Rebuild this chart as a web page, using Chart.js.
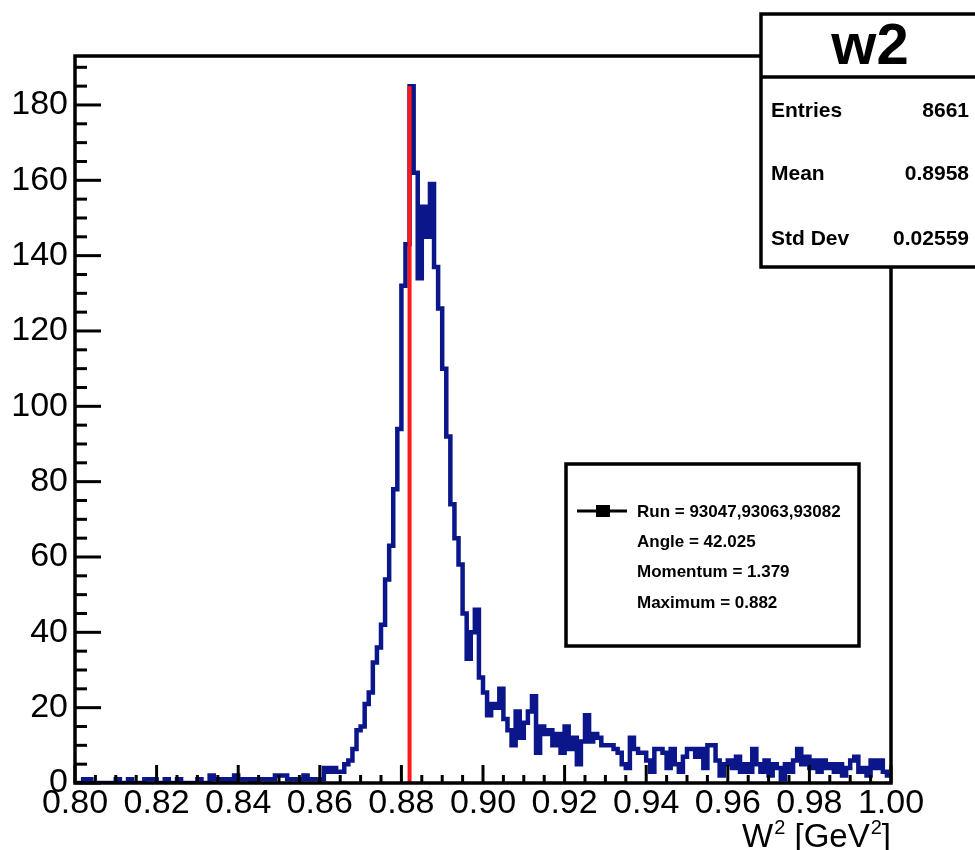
<!DOCTYPE html>
<html><head><meta charset="utf-8">
<script src="https://cdn.jsdelivr.net/npm/chart.js@4.4.0/dist/chart.umd.min.js"></script>
<style>html,body{margin:0;padding:0;background:#fff;} #wrap{width:975px;height:850px;position:relative;}</style>
</head><body><div id="wrap"><canvas id="c" width="975" height="850"></canvas></div>
<script>
// ---- data ----
const xMin = 0.80, xMax = 1.00, binWidth = 0.001;
const counts = [
  0,0,1,1,0,0,0,0,0,0,
  1,0,0,1,0,0,0,1,1,1,
  0,0,1,0,0,1,0,0,0,0,
  1,0,0,2,1,1,0,1,0,2,
  1,1,1,0,1,1,1,1,1,2,
  2,2,1,1,1,1,2,1,1,1,
  1,4,3,4,3,3,5,6,9,14,
  15,21,24,32,36,42,54,63,78,94,
  132,143,185,162,134,153,145,159,137,126,
  110,92,74,65,58,45,33,40,46,28,
  24,18,21,20,25,17,14,10,19,12,
  16,19,23,8,15,13,14,10,13,8,
  15,9,12,5,11,18,11,13,12,10,
  10,10,9,8,5,4,12,9,8,8,
  6,3,9,9,8,4,9,5,3,7,
  9,9,7,9,4,10,10,6,2,5,
  6,4,7,3,5,3,9,5,3,6,
  2,5,4,1,5,3,6,9,5,7,
  4,6,3,6,4,5,3,5,2,4,
  6,7,3,4,2,6,4,6,3,2
];
const xTickValues = [0.80,0.82,0.84,0.86,0.88,0.90,0.92,0.94,0.96,0.98,1.00];
const yTickValues = [0,20,40,60,80,100,120,140,160,180];
const yMax = 193;
const xMinorStep = 0.005, yMinorStep = 5;
const peakMarkerX = 0.882;
const xTitleParts = [['W',false],['2',true],[' [GeV',false],['2',true],[']',false]];
const statsTitle = 'w2';
const statsLabels = ['Entries','Mean','Std Dev'];
const statsValues = ['8661','0.8958','0.02559'];
const legendLines = ['Run = 93047,93063,93082','Angle = 42.025','Momentum = 1.379','Maximum = 0.882'];

// ---- build ----
const histPoints = counts.map((c,i)=>({x: xMin + i*binWidth, y: c}));
histPoints.push({x: xMax, y: counts[counts.length-1]});
const peakVal = Math.max(...counts);
const markerPoints = [{x: peakMarkerX, y: 0},{x: peakMarkerX, y: peakVal}];

const FONT = '"Liberation Sans", Arial, Helvetica, sans-serif';

const framePlugin = {
  id: 'frame',
  afterDatasetsDraw(chart){
    const {ctx, chartArea:a, scales:{x,y}} = chart;
    ctx.save();
    ctx.strokeStyle = '#000';
    ctx.lineCap = 'butt';
    ctx.lineWidth = 3;
    const nY = Math.round(yMax / yMinorStep);
    for (let k=0;k<=nY;k++){
      const v = k*yMinorStep;
      if (v > yMax) break;
      const py = y.getPixelForValue(v);
      const len = (v % 20 === 0) ? 26 : 12;
      ctx.beginPath(); ctx.moveTo(a.left, py); ctx.lineTo(a.left+len, py); ctx.stroke();
    }
    const nX = Math.round((xMax-xMin)/xMinorStep);
    for (let k=0;k<=nX;k++){
      const v = xMin + k*xMinorStep;
      const px = x.getPixelForValue(v);
      const len = (k % 4 === 0) ? 18 : 8;
      ctx.beginPath(); ctx.moveTo(px, a.bottom); ctx.lineTo(px, a.bottom-len); ctx.stroke();
    }
    ctx.lineWidth = 3.5;
    ctx.strokeRect(a.left, a.top, a.right-a.left, a.bottom-a.top);
    ctx.restore();
  },
  afterDraw(chart){
    const {ctx, chartArea:a} = chart;
    ctx.save();
    // x-axis title with superscripts, right-aligned to the frame
    const mainF = '33px ' + FONT, supF = '20px ' + FONT;
    let total = 0;
    xTitleParts.forEach(([t,sup])=>{ ctx.font = sup?supF:mainF; total += ctx.measureText(t).width + (sup?1:0); });
    let cx = a.right - total;
    ctx.fillStyle = '#000'; ctx.textAlign = 'left'; ctx.textBaseline = 'alphabetic';
    xTitleParts.forEach(([t,sup])=>{
      ctx.font = sup?supF:mainF;
      ctx.fillText(t, cx + (sup?1:0), sup ? 834 : 847);
      cx += ctx.measureText(t).width + (sup?1:0);
    });
    // stats box
    ctx.fillStyle = '#fff';
    ctx.fillRect(761, 14, 230, 253);
    ctx.strokeStyle = '#000'; ctx.lineWidth = 3.5;
    ctx.strokeRect(761, 14, 230, 253);
    ctx.beginPath(); ctx.moveTo(761, 77); ctx.lineTo(990, 77); ctx.stroke();
    ctx.fillStyle = '#000';
    ctx.textAlign = 'center'; ctx.textBaseline = 'middle';
    ctx.font = 'bold 58px ' + FONT;
    ctx.fillText(statsTitle, 870, 48);
    ctx.font = 'bold 21px ' + FONT;
    const rowsY = [111, 174, 239];
    statsLabels.forEach((t,i)=>{
      ctx.textAlign = 'left'; ctx.fillText(t, 771, rowsY[i]);
      ctx.textAlign = 'right'; ctx.fillText(statsValues[i], 969, rowsY[i]);
    });
    // legend box
    ctx.fillStyle = '#fff';
    ctx.fillRect(566, 464, 293, 182);
    ctx.lineWidth = 3.5;
    ctx.strokeRect(566, 464, 293, 182);
    ctx.lineWidth = 3;
    ctx.beginPath(); ctx.moveTo(577, 511); ctx.lineTo(627, 511); ctx.stroke();
    ctx.fillStyle = '#000';
    ctx.fillRect(596, 505, 14, 12);
    ctx.font = 'bold 17px ' + FONT;
    ctx.textAlign = 'left'; ctx.textBaseline = 'middle';
    const legY = [512, 542, 572, 603];
    legendLines.forEach((t,i)=> ctx.fillText(t, 637, legY[i]));
    ctx.restore();
  }
};

new Chart(document.getElementById('c'), {
  type: 'line',
  data: {
    datasets: [
      { data: markerPoints, borderColor: '#ff1a1a', borderWidth: 4, pointRadius: 0, fill: false, tension: 0 },
      { data: histPoints, borderColor: '#0a168a', borderWidth: 4.5, pointRadius: 0, fill: false, stepped: 'before', borderJoinStyle: 'miter', tension: 0 }
    ]
  },
  options: {
    responsive: false,
    animation: false,
    devicePixelRatio: 1,
    layout: { padding: { left: 0, right: 84, top: 56, bottom: 0 } },
    plugins: { legend: { display: false }, tooltip: { enabled: false }, title: { display: false } },
    scales: {
      x: {
        type: 'linear', min: xMin, max: xMax,
        grid: { display: false, drawTicks: false },
        border: { display: false },
        afterBuildTicks: s => { s.ticks = xTickValues.map(v=>({value:v})); },
        afterFit: s => { s.height = 67; },
        ticks: { color: '#000', font: { family: FONT, size: 34 }, padding: 0, maxRotation: 0, autoSkip: false,
                 callback: v => Number(v).toFixed(2) },
        title: { display: false }
      },
      y: {
        type: 'linear', min: 0, max: yMax,
        grid: { display: false, drawTicks: false },
        border: { display: false },
        afterBuildTicks: s => { s.ticks = yTickValues.map(v=>({value:v})); },
        afterFit: s => { s.width = 75; },
        ticks: { color: '#000', font: { family: FONT, size: 34 }, padding: 7, autoSkip: false, callback: v => String(v) }
      }
    }
  },
  plugins: [framePlugin]
});
</script></body></html>
